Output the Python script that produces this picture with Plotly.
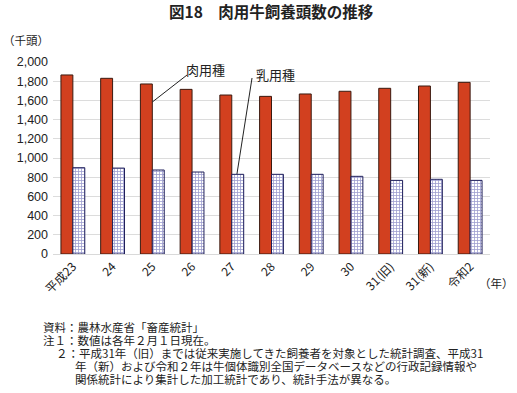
import plotly.graph_objects as go

categories = ["平成23", "24", "25", "26", "27", "28", "29", "30", "31(旧)", "31(新)", "令和2"]
beef_breed = [1865, 1830, 1771, 1715, 1656, 1642, 1667, 1695, 1726, 1750, 1788]
dairy_breed = [899, 895, 875, 854, 830, 830, 830, 809, 767, 778, 767]
y_ticks = [0, 200, 400, 600, 800, 1000, 1200, 1400, 1600, 1800, 2000]
y_tick_labels = ["0", "200", "400", "600", "800", "1,000", "1,200", "1,400", "1,600", "1,800", "2,000"]

FONT = "Liberation Sans, Arial, Noto Sans CJK JP"
JP = "Noto Sans CJK JP, Liberation Sans"

PL, PR, PT, PB = 53, 490, 62, 254  # plot area in page pixels
W, H = 517, 393

fig = go.Figure()
fig.add_trace(go.Bar(
    x=categories, y=beef_breed, name="肉用種",
    marker=dict(color="#d2401f", line=dict(color="#3a1a10", width=1)),
))
fig.add_trace(go.Bar(
    x=categories, y=dairy_breed, name="乳用種",
    marker=dict(color="white", line=dict(color="#1f1f5a", width=1),
                pattern=dict(shape="+", fgcolor="#3c3ca0", bgcolor="white", size=3, solidity=0.45)),
))

fig.update_layout(
    width=W, height=H,
    margin=dict(l=PL, r=W - PR, t=PT, b=H - PB, autoexpand=False),
    paper_bgcolor="white", plot_bgcolor="white",
    barmode="group", bargap=0.4, bargroupgap=0,
    showlegend=False,
    font=dict(family=FONT, size=12, color="#222"),
    xaxis=dict(type="category", showgrid=False, showline=True, linecolor="#d9d9d9",
               tickangle=-45, tickfont=dict(family=JP, size=12, color="#222"), ticks=""),
    yaxis=dict(range=[0, 2000], tickvals=y_ticks, ticktext=y_tick_labels,
               showgrid=True, gridcolor="#dcdcdc", zeroline=False, ticks="",
               tickfont=dict(family=FONT, size=12.5, color="#222"), ticklabelstandoff=4),
)

pw, ph = PR - PL, PB - PT


def px(x):
    return (x - PL) / pw


def py(y):
    return (PB - y) / ph


# title and axis units
fig.add_annotation(text="<b>図18　肉用牛飼養頭数の推移</b>", xref="paper", yref="paper",
                   x=px(271), y=py(11), xanchor="center", yanchor="middle",
                   showarrow=False, font=dict(family=JP, size=15.5, color="#222"))
fig.add_annotation(text="（千頭）", xref="paper", yref="paper",
                   x=px(1), y=py(40), xanchor="left", yanchor="middle",
                   showarrow=False, font=dict(family=JP, size=11.5, color="#222"))
fig.add_annotation(text="（年）", xref="paper", yref="paper",
                   x=px(516), y=py(283), xanchor="right", yanchor="middle",
                   showarrow=False, font=dict(family=JP, size=11.5, color="#222"))

# series labels with leader lines
fig.add_annotation(text="肉用種", x=3.35, y=1927, xref="x", yref="y", showarrow=False,
                   font=dict(family=JP, size=13, color="#222"))
fig.add_shape(type="line", xref="x", yref="y", x0=2.875, y0=1865, x1=2.0, y1=1583,
              line=dict(color="#222", width=1))
fig.add_annotation(text="乳用種", x=5.10, y=1865, xref="x", yref="y", showarrow=False,
                   font=dict(family=JP, size=13, color="#222"))
fig.add_shape(type="line", xref="x", yref="y", x0=4.51, y0=1833, x1=4.13, y1=833,
              line=dict(color="#222", width=1))

notes = [
    (41, 327, "資料：農林水産省「畜産統計」"),
    (41, 340, "注１：数値は各年２月１日現在。"),
    (54, 353, "２：平成31年（旧）までは従来実施してきた飼養者を対象とした統計調査、平成31"),
    (73, 366, "年（新）および令和２年は牛個体識別全国データベースなどの行政記録情報や"),
    (73, 379, "関係統計により集計した加工統計であり、統計手法が異なる。"),
]
for xp, yp, t in notes:
    fig.add_annotation(text=t, xref="paper", yref="paper",
                       x=px(xp), y=py(yp), xanchor="left", yanchor="middle",
                       showarrow=False, font=dict(family=JP, size=11.5, color="#222"))

fig.write_html("out.html", config={"displayModeBar": False},
               post_script="document.body.style.margin='0px';")
